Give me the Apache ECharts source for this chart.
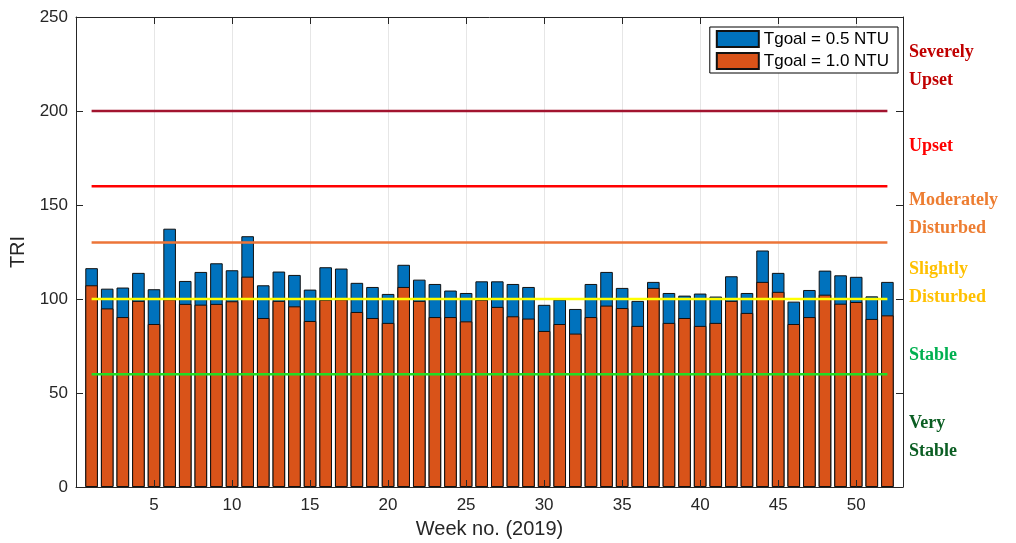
<!DOCTYPE html>
<html>
<head>
<meta charset="utf-8">
<script src="https://cdn.jsdelivr.net/npm/echarts@6/dist/echarts.min.js"></script>
<style>html,body{margin:0;padding:0;background:#fff;}#c{width:1016px;height:543px;}</style>
</head>
<body>
<div id="c"></div>
<script>
const weeks = Array.from({length: 52}, (_, i) => i + 1);
const tri05 = [116.4,105.5,106.1,113.9,105.2,137.4,109.6,114.4,119.0,115.3,133.4,107.3,114.6,112.8,105.0,116.9,116.2,108.6,106.4,102.7,118.2,110.3,108.0,104.5,103.2,109.4,109.4,108.0,106.4,96.9,99.7,94.7,108.0,114.4,105.9,99.0,109.1,103.2,101.8,102.9,101.3,112.1,103.2,125.8,113.9,98.6,104.8,115.1,112.6,111.8,101.4,109.1];
const tri10 = [107.3,95.0,90.4,99.0,86.7,99.8,97.4,97.0,97.4,98.8,111.9,89.9,99.0,96.1,88.3,99.6,99.8,93.1,89.9,87.3,106.4,99.0,90.4,90.4,88.1,99.6,95.8,90.8,89.6,83.0,86.7,81.6,90.4,96.5,95.2,85.7,105.9,87.3,89.9,85.7,87.3,99.0,92.6,109.1,103.8,86.7,90.4,102.3,97.5,98.4,89.4,91.3];
const thresholds = [200, 160, 130, 100, 60];
const thresholdColors = ['#A2142F', '#FF0000', '#EC7538', '#FFFF00', '#22DD22'];
const zoneLabels = [
  {lines: ['Severely', 'Upset'], color: '#C00000', y: 53},
  {lines: ['Upset'], color: '#FF0000', y: 147},
  {lines: ['Moderately', 'Disturbed'], color: '#ED7D31', y: 201},
  {lines: ['Slightly', 'Disturbed'], color: '#FFC000', y: 270},
  {lines: ['Stable'], color: '#00B050', y: 356},
  {lines: ['Very', 'Stable'], color: '#0B5E23', y: 424}
];
const seriesNames = ['Tgoal = 0.5 NTU', 'Tgoal = 1.0 NTU'];

const chart = echarts.init(document.getElementById('c'), null, {renderer: 'canvas'});
const axisCol = '#262626';
const font = 'Liberation Sans, Arial, Helvetica, sans-serif';

const lineSeries = thresholds.map((t, i) => ({
  type: 'line',
  data: [[weeks[0], t], [weeks[weeks.length - 1], t]],
  symbol: 'none',
  lineStyle: {color: thresholdColors[i], width: 2.5},
  z: 5,
  silent: true
}));

const graphics = [];
zoneLabels.forEach(z => {
  z.lines.forEach((ln, k) => {
    graphics.push({
      type: 'text', left: 909, top: z.y - 10 + k * 28,
      style: {text: ln, fill: z.color, font: 'bold 18px "Liberation Serif", "Times New Roman", serif'}
    });
  });
});

const overlayX = (pos) => ({
  type: 'value', min: 0, max: 53, interval: 5, position: pos, z: 10,
  axisLine: {show: true, onZero: false, lineStyle: {color: axisCol, width: 1}},
  axisTick: {show: true, inside: true, length: 7, lineStyle: {color: axisCol}},
  axisLabel: {show: false}, splitLine: {show: false}
});

chart.setOption({
  animation: false,
  backgroundColor: '#fff',
  grid: {left: 76, right: 113, top: 17, bottom: 56, outerBoundsMode: 'none', containLabel: false},
  legend: {
    data: seriesNames,
    orient: 'vertical',
    right: 118, top: 27,
    padding: [3, 9, 3, 6],
    itemGap: 4,
    itemWidth: 42, itemHeight: 16,
    icon: 'rect',
    borderColor: '#000', borderWidth: 1, backgroundColor: '#fff',
    textStyle: {fontSize: 17, color: '#000', fontFamily: font},
    z: 20
  },
  xAxis: [{
    type: 'value', min: 0, max: 53, interval: 5,
    name: 'Week no. (2019)', nameLocation: 'middle', nameGap: 32,
    nameTextStyle: {fontSize: 20, color: axisCol, fontFamily: font},
    axisLine: {show: false, onZero: false},
    axisTick: {show: false},
    axisLabel: {fontSize: 17, color: axisCol, fontFamily: font, margin: 10, showMinLabel: false, showMaxLabel: false},
    splitLine: {show: true, lineStyle: {color: '#e6e6e6', width: 1}}
  }, overlayX('bottom'), overlayX('top')],
  yAxis: [{
    type: 'value', min: 0, max: 250, interval: 50, z: 10,
    name: 'TRI', nameLocation: 'middle', nameGap: 41,
    nameTextStyle: {fontSize: 20, color: axisCol, fontFamily: font},
    axisLine: {show: true, onZero: false, lineStyle: {color: axisCol, width: 1}},
    axisTick: {show: true, inside: true, length: 7, lineStyle: {color: axisCol}},
    axisLabel: {fontSize: 17, color: axisCol, fontFamily: font, margin: 8},
    splitLine: {show: false}
  }, {
    type: 'value', min: 0, max: 250, interval: 50, position: 'right', z: 10,
    axisLine: {show: true, onZero: false, lineStyle: {color: axisCol, width: 1}},
    axisTick: {show: true, inside: true, length: 7, lineStyle: {color: axisCol}},
    axisLabel: {show: false}, splitLine: {show: false}
  }],
  series: [{
    name: seriesNames[0], type: 'bar',
    data: weeks.map((w, i) => [w, tri05[i]]),
    barWidth: 12.6, barGap: '-100%',
    itemStyle: {color: '#0072BD', borderColor: '#111', borderWidth: 1},
    z: 2
  }, {
    name: seriesNames[1], type: 'bar',
    data: weeks.map((w, i) => [w, tri10[i]]),
    barWidth: 12.6, barGap: '-100%',
    itemStyle: {color: '#D95319', borderColor: '#111', borderWidth: 1},
    z: 3
  }].concat(lineSeries),
  graphic: graphics
});
</script>
</body>
</html>
